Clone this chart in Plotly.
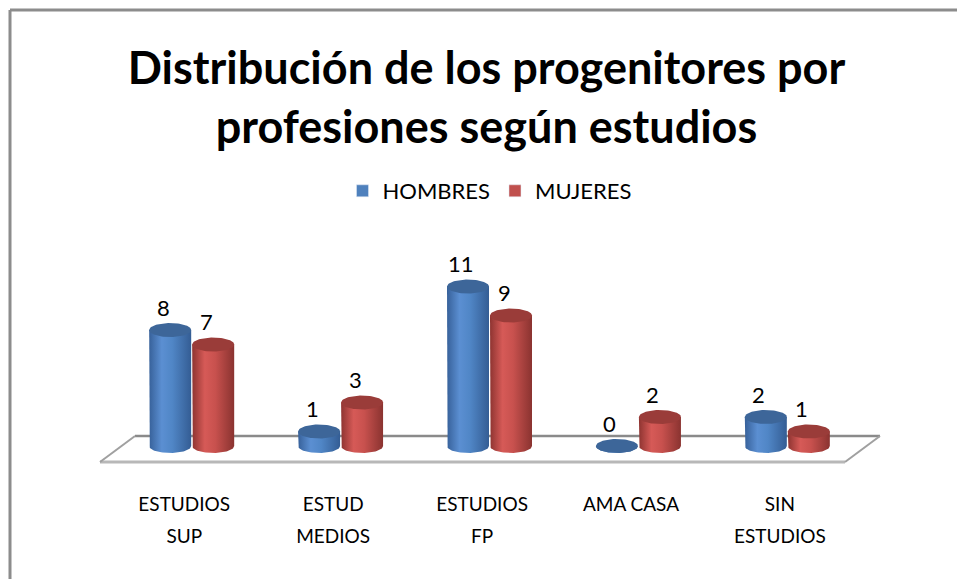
import numpy as np
import plotly.graph_objects as go

cat_line1 = ["ESTUDIOS", "ESTUD", "ESTUDIOS", "AMA CASA", "SIN"]
cat_line2 = ["SUP", "MEDIOS", "FP", "", "ESTUDIOS"]
hombres = [8, 1, 11, 0, 2]
mujeres = [7, 3, 9, 2, 1]
series_names = ["HOMBRES", "MUJERES"]

# page has an 8px body margin: figure occupies reference pixels 8..965 x 8..579
OX, OY = 8, 8
W, H = 965 - OX, 579 - OY
# plot (data) area in reference pixels
PL, PR, PT, PB = 80, 899, 230, 475
PBP = 523            # bottom of the paper area (second label line axis)
ML, MR, MT, MB = PL - OX, 965 - PR, PT - OY, 579 - PBP
XR = [-0.75, 4.75]
YR = [-2.0, 14.9]
PX_X = (PR - PL) / (XR[1] - XR[0])
PX_Y = (PB - PT) / (YR[1] - YR[0])

OFF = 21.5 / PX_X     # half gap between the two series centers
RX = 21.0 / PX_X      # cylinder radius (x)
RY = 7.0 / PX_Y       # ellipse half height (y)

body_scales = {
    "HOMBRES": [[0, "#37619a"], [0.3, "#5b8fd2"], [0.55, "#5086c6"], [1, "#345d94"]],
    "MUJERES": [[0, "#8e3431"], [0.3, "#d65a57"], [0.55, "#c8514e"], [1, "#8a3330"]],
}
top_colors = {"HOMBRES": "#3d6699", "MUJERES": "#9a3c39"}
legend_colors = {"HOMBRES": "#4f81bd", "MUJERES": "#c0504d"}

fig = go.Figure()

# helpers: reference pixel -> data / paper coordinates
fx = lambda px: XR[0] + (px - PL) / PX_X
fy = lambda py: YR[1] - (py - PT) / PX_Y
bx = lambda px: (px - PL) / (PR - PL)
by = lambda py: (PBP - py) / (PBP - PT)

# floor (3D plane)
back_l, back_r = (fx(135), fy(436)), (fx(880), fy(436))
front_l, front_r = (fx(100), fy(462)), (fx(845), fy(462))
fig.add_shape(type="line", x0=back_l[0], y0=back_l[1], x1=back_r[0], y1=back_r[1],
              line=dict(color="#8a8a8a", width=2.5), layer="below")
fig.add_shape(type="line", x0=front_l[0], y0=front_l[1], x1=front_r[0], y1=front_r[1],
              line=dict(color="#b8b8b8", width=3), layer="below")
fig.add_shape(type="line", x0=front_l[0], y0=front_l[1], x1=back_l[0], y1=back_l[1],
              line=dict(color="#a0a0a0", width=2), layer="below")
fig.add_shape(type="line", x0=front_r[0], y0=front_r[1], x1=back_r[0], y1=back_r[1],
              line=dict(color="#a0a0a0", width=2), layer="below")

t = np.linspace(0, np.pi, 40)
t_full = np.linspace(0, 2 * np.pi, 80)

for s, (name, vals) in enumerate(zip(series_names, [hombres, mujeres])):
    sign = -1 if s == 0 else 1
    for i, v in enumerate(vals):
        cx = i + sign * OFF
        xs = [cx - RX] + list(cx - RX * np.cos(t)) + [cx + RX, cx - RX]
        ys = [v] + list(0 - RY * np.sin(t)) + [v, v]
        fig.add_trace(go.Scatter(
            x=xs, y=ys, mode="lines", fill="toself", line=dict(width=0),
            fillgradient=dict(type="horizontal", colorscale=body_scales[name]),
            showlegend=False, hoverinfo="skip"))
        fig.add_trace(go.Scatter(
            x=list(cx + RX * np.cos(t_full)), y=list(v + RY * np.sin(t_full)),
            mode="lines", fill="toself", line=dict(width=0),
            fillcolor=top_colors[name], showlegend=False,
            name=name, hovertemplate=f"{name}: {v}<extra></extra>"))
        fig.add_annotation(x=cx, y=v, xref="x", yref="y", text=str(v),
                           showarrow=False, xshift=-7, yshift=23, yanchor="middle",
                           font=dict(size=22, color="#000000"))

# legend entries
for name in series_names:
    fig.add_trace(go.Bar(x=[None], y=[None], name=name,
                         marker=dict(color=legend_colors[name])))

# second line of category labels on an overlaid axis
fig.add_trace(go.Scatter(x=[None], y=[None], xaxis="x2", showlegend=False, hoverinfo="skip"))

# chart border (top and left)
fig.add_shape(type="line", xref="paper", yref="paper", x0=bx(10), y0=by(10), x1=bx(966), y1=by(10),
              line=dict(color="#8c8c8c", width=3))
fig.add_shape(type="line", xref="paper", yref="paper", x0=bx(10), y0=by(10), x1=bx(10), y1=by(580),
              line=dict(color="#8c8c8c", width=3))

tickvals = [i - 0.05 for i in range(5)]
fig.update_layout(
    width=W, height=H,
    margin=dict(l=ML, r=MR, t=MT, b=MB),
    paper_bgcolor="white", plot_bgcolor="white",
    font=dict(family="Lato, Noto Sans, sans-serif", color="#000000"),
    title=dict(text="<b>Distribución de los progenitores por<br>profesiones según estudios</b>",
               x=0.5, xanchor="center", y=1 - 76 / H, yanchor="middle",
               font=dict(size=45, color="#000000")),
    legend=dict(orientation="h", x=0.5, xanchor="center", y=by(191), yanchor="middle",
                font=dict(size=22), itemwidth=30, traceorder="normal"),
    xaxis=dict(range=XR, tickmode="array", tickvals=tickvals,
               anchor="free", position=by(491),
               ticktext=cat_line1, showgrid=False, zeroline=False, showline=False,
               ticks="", tickfont=dict(size=19), fixedrange=True),
    xaxis2=dict(range=XR, tickmode="array", tickvals=tickvals, overlaying="x",
                anchor="free", position=0, side="bottom",
                ticktext=cat_line2, showgrid=False, zeroline=False, showline=False,
                ticks="", tickfont=dict(size=19), fixedrange=True),
    yaxis=dict(range=YR, visible=False, fixedrange=True, domain=[by(PB), 1]),
    showlegend=True,
)
fig.write_html("out.html")
